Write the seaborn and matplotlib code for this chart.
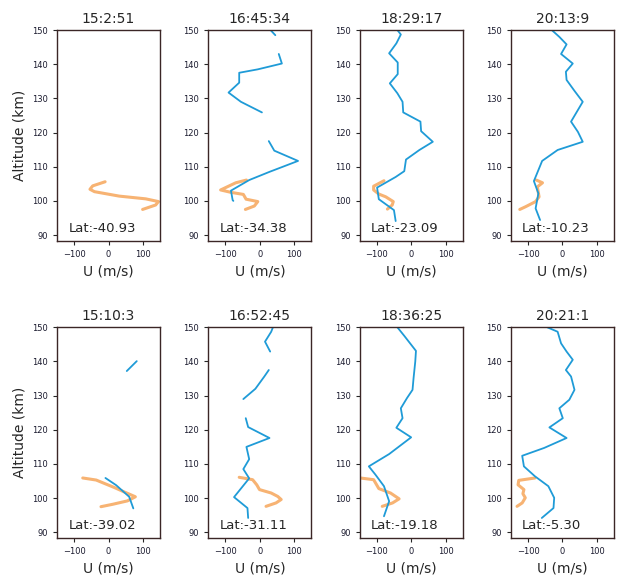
import numpy as np
import pandas as pd
import matplotlib
matplotlib.use('Agg')
import matplotlib.pyplot as plt
import seaborn as sns

# panel titles and latitudes
titles = ['15:2:51', '16:45:34', '18:29:17', '20:13:9',
          '15:10:3', '16:52:45', '18:36:25', '20:21:1']
lats = ['-40.93', '-34.38', '-23.09', '-10.23',
        '-39.02', '-31.11', '-19.18', '-5.30']

# blue profiles: list of segments per panel, each segment is (u, alt)
blue_u = [
    [],
    [[31, 45], [55, 64, -6, -60, -60, -75, -91, -55, 6],
     [26, 42, 111, 67, 28, -31, -84, -79, -77]],
    [[-40, -30, -43, -64, -39, -39, -62, -40, -25, -23, 27, 29, 63, 24, -15, -20, -45, -99, -94, -50, -45]],
    [[-31, -9, 12, -4, 30, 10, 12, 35, 59, 25, 45, 59, -14, -59, -83, -70, -78, -65]],
    [[53, 82], [-9, 22, 60, 72]],
    [[38, 33, 15, 30], [26, 13, -13, -48],
     [-41, -34, 28, -39, -31, -48, -31, -75, -36, -34]],
    [[-40, -20, 14, 12, 7, 4, -12, -30, -25, -43, 0, -64, -123, -104, -79, -64, -79]],
    [[-44, -14, -4, 12, 30, 10, 25, 35, 20, -9, 1, -38, 12, -53, -117, -112, -80, -41, -24, -26, -60]],
]
blue_alt = [
    [],
    [[150, 148.5], [143, 140.2, 138.5, 137.5, 134.6, 133.2, 131.7, 129, 125.9],
     [117.5, 114.7, 111.7, 110, 108.5, 106.1, 103, 100.2, 100]],
    [[150, 148.7, 146.1, 143.2, 140.5, 137.1, 134.4, 131.5, 129, 125.9, 123.2, 120.4, 117.3, 114.9, 112.1, 108.7, 107, 103.9, 100.5, 97.3, 94.1]],
    [[150, 148, 145.8, 143, 140.2, 137.8, 135.4, 132.2, 129, 123.2, 120.2, 117.3, 114.9, 111.7, 105.8, 102.2, 97.8, 94.4]],
    [[137.2, 140.1], [105.9, 103.8, 100.4, 97]],
    [[150, 148.7, 145.8, 142.9], [137.5, 135.6, 132, 129],
     [123.4, 120.8, 117.6, 115, 111.4, 108.5, 105.8, 100.3, 97.1, 94.2]],
    [[150, 147.5, 143.1, 140, 135.1, 131.7, 129.3, 126.3, 123.4, 120.6, 117.8, 112.9, 109.3, 106.9, 103.5, 99.1, 94.7]],
    [[150, 148.7, 145.3, 142.9, 140.5, 137.5, 135.6, 131.7, 128.8, 126.3, 123.4, 120.7, 117.6, 114.7, 112.4, 109.3, 106.4, 103.5, 100.1, 97.1, 94.2]],
]

# orange profiles: one segment per panel
orange_u = [
    [-10, -46, -54, -41, 31, 108, 145, 137, 99],
    [-39, -70, -114, -84, -48, -40, -6, -16, -42],
    [-79, -109, -109, -94, -74, -52, -55, -69],
    [-76, -58, -73, -68, -78, -107, -124],
    [-75, -36, 17, 46, 78, 55, 12, -22],
    [-60, -21, -9, -1, 33, 52, 62, 47, 18],
    [-148, -109, -94, -60, -35, -54, -84],
    [-80, -127, -129, -112, -115, -108, -117, -132],
]
orange_alt = [
    [105.6, 104.4, 103.4, 102.7, 101.4, 100.6, 99.8, 98.8, 97.5],
    [106.1, 105.3, 103.2, 102.5, 101.9, 100.5, 99.8, 98.5, 97.5],
    [105.9, 104.3, 103.2, 102, 101.2, 99.8, 98.8, 97.6],
    [106.1, 105.3, 104.1, 101.2, 99.8, 98.3, 97.5],
    [105.9, 105.3, 103.1, 101.8, 100.4, 99.2, 98.2, 97.5],
    [106.1, 105.4, 103.9, 102.5, 101.5, 100.5, 99.6, 98.6, 97.6],
    [105.9, 105.4, 102.8, 101.5, 99.8, 98.6, 97.6],
    [105.9, 105.2, 103.9, 102.5, 101.3, 100.1, 98.6, 97.6],
]

sns.set_style('ticks')
plt.rcParams['font.family'] = ['DejaVu Sans']

fig, axes = plt.subplots(2, 4, figsize=(6.19, 5.78), dpi=100)
fig.subplots_adjust(left=0.092, right=0.992, top=0.948, bottom=0.069,
                    wspace=0.466, hspace=0.41)

for i, ax in enumerate(axes.flat):
    # orange profile
    odf = pd.DataFrame({'u': orange_u[i], 'alt': orange_alt[i]})
    sns.lineplot(data=odf, x='u', y='alt', sort=False, estimator=None,
                 color='#f5a050', lw=2.2, alpha=0.8, ax=ax)
    # blue profile segments
    rows = []
    for k, (us, als) in enumerate(zip(blue_u[i], blue_alt[i])):
        for u, a in zip(us, als):
            rows.append((k, u, a))
    if rows:
        bdf = pd.DataFrame(rows, columns=['seg', 'u', 'alt'])
        sns.lineplot(data=bdf, x='u', y='alt', units='seg', sort=False,
                     estimator=None, color='#1f9bd7', lw=1.3, ax=ax)

    ax.set_xlim(-150, 150)
    ax.set_ylim(88.3, 150)
    ax.set_xticks([-100, 0, 100])
    ax.set_yticks(range(90, 151, 10))
    ax.tick_params(labelsize=6, length=3, width=0.8, labelcolor='#1a1a2e')
    for s in ax.spines.values():
        s.set_color('#3b2626')
        s.set_linewidth(1.0)
    ax.set_title(titles[i], fontsize=10, pad=5)
    ax.set_xlabel('U (m/s)', fontsize=10)
    ax.set_ylabel('Altitude (km)' if i % 4 == 0 else '', fontsize=10)
    ax.text(0.11, 0.03, 'Lat:' + lats[i], transform=ax.transAxes,
            fontsize=9.5, ha='left', va='bottom')

fig.savefig('out.png', dpi=100)
